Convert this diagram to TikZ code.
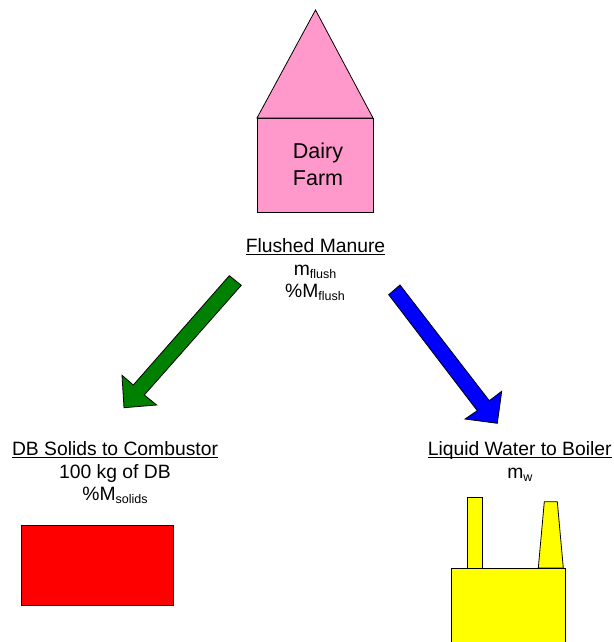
\documentclass[tikz,border=0pt]{standalone}
\usepackage{fontspec}
\setmainfont{Liberation Sans}
\newcommand{\subtxt}[1]{\raisebox{-0.17em}{\fontsize{12.5}{14}\selectfont #1}}
\newsavebox{\ulbox}
\newcommand{\ultxt}[1]{\sbox{\ulbox}{#1}\rlap{#1}\rule[-3.2pt]{\wd\ulbox}{1pt}}
\definecolor{farmpink}{HTML}{FF99CC}
\definecolor{arrowgreen}{HTML}{008000}
\definecolor{boileryellow}{HTML}{FFFF00}
\definecolor{arrowblue}{HTML}{0000FF}
\definecolor{boxred}{HTML}{FF0000}
\tikzset{
  shapeline/.style={draw=black,line width=0.8pt,line join=miter},
  lbl/.style={inner sep=0pt,anchor=base,font=\fontsize{19.3}{22}\selectfont,text=black},
  farmlbl/.style={inner sep=0pt,anchor=base,font=\fontsize{21.5}{24}\selectfont,text=black},
}
\begin{document}
\begin{tikzpicture}[x=1pt,y=-1pt]
\useasboundingbox (0,0) rectangle (613,642);
\clip (0,0) rectangle (613,642);
% dairy farm
\draw[shapeline,fill=farmpink] (257,118) rectangle (373,212.5);
\draw[shapeline,fill=farmpink] (315.5,10) -- (373,118) -- (257,118) -- cycle;
\node[farmlbl] (dairy) at (318,158.5) {Dairy};
\node[farmlbl] (farm) at (318,185) {Farm};
% flushed manure
\node[lbl] (flushed) at (315.5,252) {\ultxt{Flushed Manure}};
\node[lbl] (mflush) at (315,275) {m\subtxt{flush}};
\node[lbl] (pmflush) at (315,297.5) {\%M\subtxt{flush}};
% block arrows
\draw[shapeline,fill=arrowgreen] (229.3,275.7) -- (241.3,285.3) -- (144.3,395) -- (156.7,405) -- (124,407.7) -- (122,375.3) -- (133.3,385) -- cycle;
\draw[shapeline,fill=arrowblue] (400,285) -- (388.7,294.7) -- (477.3,410.7) -- (465,419) -- (497.3,423.3) -- (501.7,391.3) -- (489.3,400.7) -- cycle;
% solids
\node[lbl] (solids) at (115,455) {\ultxt{DB Solids to Combustor}};
\node[lbl] (kg) at (115,478) {100 kg of DB};
\node[lbl] (msolids) at (115,500) {\%M\subtxt{solids}};
\draw[shapeline,fill=boxred] (21.7,525.3) rectangle (173.6,605);
% water
\node[lbl] (water) at (519.7,455) {\ultxt{Liquid Water to Boiler}};
\node[lbl] (mw) at (519.8,478) {m\subtxt{w}};
% boiler
\draw[shapeline,fill=boileryellow] (467.7,497.7) rectangle (482.7,568);
\draw[shapeline,fill=boileryellow] (544.3,501.7) -- (557.3,501.7) -- (563.3,568) -- (538.3,568) -- cycle;
\draw[shapeline,fill=boileryellow] (451.3,568) rectangle (565.3,650);
\end{tikzpicture}
\end{document}
